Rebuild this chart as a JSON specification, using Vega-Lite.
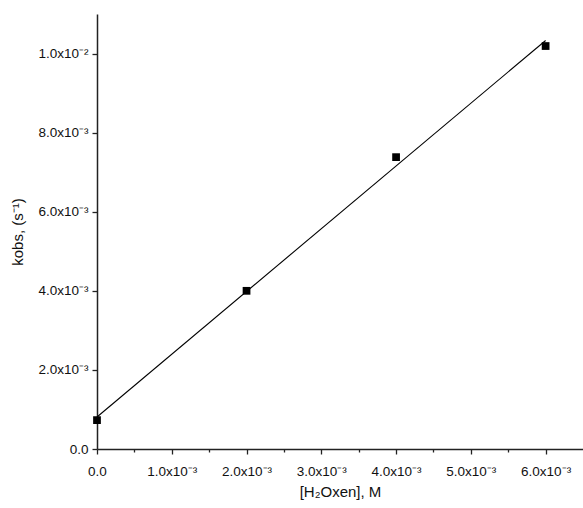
{
  "$schema": "https://vega.github.io/schema/vega-lite/v6.json",
  "autosize": {"type": "none"},
  "padding": {"left": 97, "top": 14, "right": 0, "bottom": 59},
  "width": 486,
  "height": 435,
  "background": "white",
  "config": {
    "view": {"stroke": null},
    "font": "Liberation Sans",
    "axis": {
      "domainColor": "#222222",
      "domainWidth": 1.5,
      "tickColor": "#222222",
      "tickWidth": 1.3,
      "labelColor": "#111111",
      "titleColor": "#111111",
      "labelFont": "Liberation Sans",
      "titleFont": "Liberation Sans",
      "labelFontSize": 13.5,
      "titleFontSize": 15,
      "titleFontWeight": "normal",
      "grid": false
    }
  },
  "datasets": {
    "points": [
      {"conc": 0.0, "kobs": 0.00073},
      {"conc": 0.002, "kobs": 0.0040},
      {"conc": 0.004, "kobs": 0.00738},
      {"conc": 0.006, "kobs": 0.01019}
    ],
    "fit": [
      {"conc": 0.0, "kobs": 0.00081},
      {"conc": 0.006, "kobs": 0.01033}
    ]
  },
  "layer": [
    {
      "data": {"name": "fit"},
      "mark": {"type": "line", "color": "black", "strokeWidth": 1.1},
      "encoding": {
        "x": {
          "field": "conc", "type": "quantitative",
          "scale": {"domain": [0, 0.0065], "nice": false},
          "axis": {
            "title": "[H₂Oxen], M",
            "values": [0, 0.0005, 0.001, 0.0015, 0.002, 0.0025, 0.003, 0.0035, 0.004, 0.0045, 0.005, 0.0055, 0.006],
            "labelExpr": "datum.value == 0 ? '0.0' : (round(datum.value * 2000) % 2 == 1 ? '' : format(datum.value * 1000, '.1f') + 'x10⁻³')",
            "tickSize": {"condition": {"test": "round(datum.value * 2000) % 2 == 1", "value": 3}, "value": 5},
            "labelPadding": 10,
            "titlePadding": 7,
            "labelFlush": false,
            "labelOverlap": false
          }
        },
        "y": {
          "field": "kobs", "type": "quantitative",
          "scale": {"domain": [0, 0.011], "nice": false},
          "axis": {
            "title": "kobs, (s⁻¹)",
            "values": [0, 0.001, 0.002, 0.003, 0.004, 0.005, 0.006, 0.007, 0.008, 0.009, 0.01, 0.011],
            "labelExpr": "datum.value == 0 ? '0.0' : (round(datum.value * 1000) % 2 == 1 ? '' : (datum.value >= 0.0099 ? format(datum.value * 100, '.1f') + 'x10⁻²' : format(datum.value * 1000, '.1f') + 'x10⁻³'))",
            "tickSize": {"condition": {"test": "round(datum.value * 1000) % 2 == 1", "value": 3}, "value": 5},
            "labelPadding": 4,
            "titlePadding": 12,
            "labelFlush": false,
            "labelOverlap": false
          }
        }
      }
    },
    {
      "data": {"name": "points"},
      "mark": {"type": "point", "shape": "square", "filled": true, "color": "black", "size": 60, "opacity": 1},
      "encoding": {
        "x": {"field": "conc", "type": "quantitative"},
        "y": {"field": "kobs", "type": "quantitative"}
      }
    }
  ]
}
